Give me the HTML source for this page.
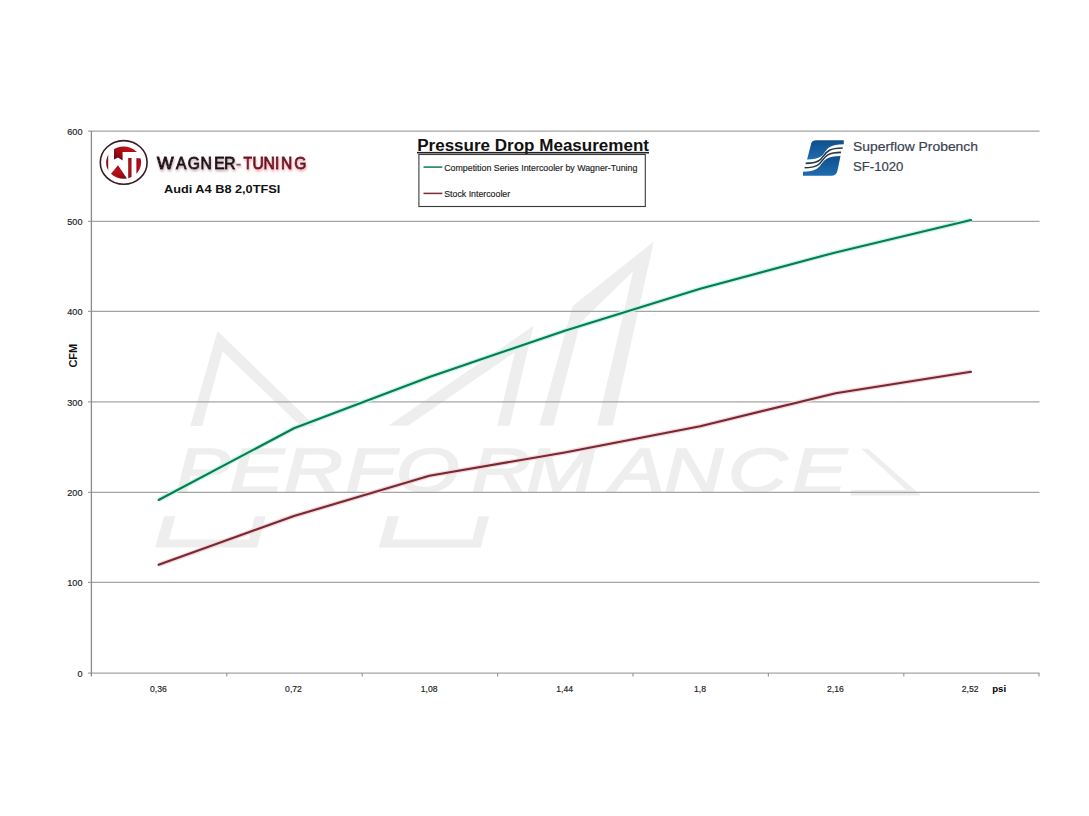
<!DOCTYPE html>
<html>
<head>
<meta charset="utf-8">
<style>
html,body{margin:0;padding:0;background:#fff;}
body{width:1089px;height:816px;overflow:hidden;}
svg{display:block;}
text{font-family:"Liberation Sans",Arial,sans-serif;}
</style>
</head>
<body>
<svg width="1089" height="816" viewBox="0 0 1089 816">
<defs>
  <clipPath id="wmclip"><rect x="0" y="0" width="1089" height="427"/></clipPath>
  <clipPath id="disc"><ellipse cx="123.6" cy="162.7" rx="17.5" ry="16.1"/></clipPath>
  <radialGradient id="redg" cx="0.45" cy="0.35" r="0.7">
    <stop offset="0" stop-color="#c0121c"/>
    <stop offset="0.65" stop-color="#9a0a14"/>
    <stop offset="1" stop-color="#5e060c"/>
  </radialGradient>
  <linearGradient id="blueg" x1="0" y1="0" x2="0" y2="1">
    <stop offset="0" stop-color="#0f4f8c"/>
    <stop offset="1" stop-color="#1f6db0"/>
  </linearGradient>
  <filter id="shadowg" x="-10%" y="-30%" width="120%" height="180%">
    <feDropShadow dx="0.6" dy="1.8" stdDeviation="1.1" flood-color="#c8a8ae" flood-opacity="1"/>
  </filter>
  <filter id="shadowp" x="-10%" y="-30%" width="120%" height="180%">
    <feDropShadow dx="0.6" dy="1.8" stdDeviation="1.2" flood-color="#f4a0aa" flood-opacity="1"/>
  </filter>
</defs>
<rect width="1089" height="816" fill="#fff"/>

<!-- watermark -->
<g fill="#eeeeee">
  <polygon points="190.3,425.9 217.5,331 315.3,425.9 300.6,425.9 222.6,351.6 202.1,425.9"/>
  <polygon points="388.2,425.7 533.6,325.7 509.7,425.7 497.3,425.7 514.9,352.2 408,425.7"/>
  <polygon points="539.3,425.5 572.7,305.9 653.8,241.6 612.6,425.5 597.2,425.5 633.2,271.2 580.5,322.6 553.4,425.5"/>
  <polygon points="164.1,516.3 175.4,516.3 168.9,539.6 249,539.6 254.8,516.3 265.6,516.3 257.2,547.4 155.1,547.4"/>
  <polygon transform="translate(223.5,0)" points="164.1,516.3 175.4,516.3 168.9,539.6 249,539.6 254.8,516.3 265.6,516.3 257.2,547.4 155.1,547.4"/>
  <polygon points="861.3,448.8 868,448.8 921,495.6 850.2,495.6 851.5,489.8 906,489.8"/>
</g>
<text transform="scale(1.3,1)" x="135.1 176.6 218.2 265.6 304.4 362.5 404.8 469.5 510.7 560 609.5" y="492.5" font-size="63" font-style="italic" fill="#eeeeee" stroke="#eeeeee" stroke-width="1.6">PERFORMANCE</text>
<!-- gridlines -->
<g stroke="#a4a4a4" stroke-width="1.25">
  <line x1="88" y1="131" x2="1039.5" y2="131"/>
  <line x1="88" y1="221.4" x2="1039.5" y2="221.4"/>
  <line x1="88" y1="311.4" x2="1039.5" y2="311.4"/>
  <line x1="88" y1="401.95" x2="1039.5" y2="401.95"/>
  <line x1="88" y1="492.25" x2="1039.5" y2="492.25"/>
  <line x1="88" y1="582.47" x2="1039.5" y2="582.47"/>
  <line x1="88" y1="673.0" x2="1039.5" y2="673.0"/>
</g>
<!-- axis -->
<line x1="91.4" y1="131" x2="91.4" y2="676.5" stroke="#8a8a8a" stroke-width="1.3"/>
<g stroke="#9a9a9a" stroke-width="1.2">
  <line x1="226.8" y1="673" x2="226.8" y2="676.5"/>
  <line x1="362.2" y1="673" x2="362.2" y2="676.5"/>
  <line x1="497.6" y1="673" x2="497.6" y2="676.5"/>
  <line x1="633" y1="673" x2="633" y2="676.5"/>
  <line x1="768.4" y1="673" x2="768.4" y2="676.5"/>
  <line x1="903.8" y1="673" x2="903.8" y2="676.5"/>
  <line x1="1039" y1="673" x2="1039" y2="676.5"/>
</g>

<!-- y labels -->
<g font-size="9.6" fill="#222" stroke="#222" stroke-width="0.18" text-anchor="end">
  <text transform="translate(82.5,134.60) scale(0.95,1)">600</text>
  <text transform="translate(82.5,225.00) scale(0.95,1)">500</text>
  <text transform="translate(82.5,315.00) scale(0.95,1)">400</text>
  <text transform="translate(82.5,405.55) scale(0.95,1)">300</text>
  <text transform="translate(82.5,495.85) scale(0.95,1)">200</text>
  <text transform="translate(82.5,586.07) scale(0.95,1)">100</text>
  <text transform="translate(82.5,676.60) scale(0.95,1)">0</text>
</g>
<!-- x labels -->
<g font-size="9.6" fill="#222" stroke="#222" stroke-width="0.18" text-anchor="middle">
  <text transform="translate(158.4,692) scale(0.9,1)">0,36</text>
  <text transform="translate(293.5,692) scale(0.9,1)">0,72</text>
  <text transform="translate(429.1,692) scale(0.9,1)">1,08</text>
  <text transform="translate(564.6,692) scale(0.9,1)">1,44</text>
  <text transform="translate(700,692) scale(0.9,1)">1,8</text>
  <text transform="translate(835.4,692) scale(0.9,1)">2,16</text>
  <text transform="translate(970.1,692) scale(0.9,1)">2,52</text>
</g>
<text x="992.2" y="692.4" font-size="9.6" font-weight="bold" fill="#000">psi</text>
<text x="0" y="0" font-size="11.5" font-weight="bold" fill="#111" transform="translate(77.4,367.6) rotate(-90)" textLength="23.8" lengthAdjust="spacingAndGlyphs">CFM</text>

<!-- data lines -->
<polyline fill="none" stroke="#f6d6dc" stroke-width="4.6" stroke-linejoin="round" points="158.6,564.8 294,516 429.4,475.8 564.8,452.5 700.2,426.2 835.6,393.2 971,371.8"/>
<polyline fill="none" stroke="#c4f6e4" stroke-width="4.6" stroke-linejoin="round" points="158.6,500 294,428.3 429.4,377 564.8,330.7 700.2,288.7 835.6,252.4 971,220.1"/>
<polyline fill="none" stroke="#742a30" stroke-width="2.1" stroke-linejoin="round" stroke-linecap="round" points="158.6,564.8 294,516 429.4,475.8 564.8,452.5 700.2,426.2 835.6,393.2 971,371.8"/>
<polyline fill="none" stroke="#0a7a50" stroke-width="2.1" stroke-linejoin="round" stroke-linecap="round" points="158.6,500 294,428.3 429.4,377 564.8,330.7 700.2,288.7 835.6,252.4 971,220.1"/>

<!-- title -->
<text x="417.2" y="150.5" font-size="15.6" font-weight="bold" fill="#111" textLength="231.8" lengthAdjust="spacingAndGlyphs">Pressure Drop Measurement</text>
<rect x="417" y="151.9" width="232" height="1.6" fill="#222"/>
<!-- legend -->
<rect x="418.9" y="154.5" width="226.4" height="52" fill="none" stroke="#3a3a3a" stroke-width="1.1"/>
<line x1="423.5" y1="167.1" x2="442.3" y2="167.1" stroke="#0b7d50" stroke-width="1.5"/>
<line x1="423.5" y1="193.4" x2="442.3" y2="193.4" stroke="#7c2c30" stroke-width="1.5"/>
<text x="444.2" y="170.6" font-size="8.8" fill="#222" stroke="#222" stroke-width="0.15" textLength="193.2" lengthAdjust="spacingAndGlyphs">Competition Series Intercooler by Wagner-Tuning</text>
<text x="444.2" y="196.6" font-size="8.8" fill="#222" stroke="#222" stroke-width="0.15" textLength="66" lengthAdjust="spacingAndGlyphs">Stock Intercooler</text>

<!-- Wagner logo -->
<ellipse cx="123.7" cy="162.4" rx="23.4" ry="21.8" fill="#fff" stroke="#3a1a22" stroke-width="1.6"/>
<ellipse cx="123.6" cy="162.7" rx="17.5" ry="16.1" fill="#fff"/>
<g clip-path="url(#disc)" fill="url(#redg)">
  <rect x="100" y="140" width="50" height="50" fill="none"/>
  <polygon points="114,140 145,140 145,151.9 122.6,151.9 122.6,160.5 118,157.5 114,159.6"/>
  <polygon points="100,150 108.2,152 108.2,172 100,174"/>
  <polygon points="104,181 111,173.8 118,165.2 128.6,181"/>
  <polygon points="128.2,158 131.5,158 131.5,185 128.2,185"/>
  <polygon points="136.4,158.2 145,158.2 145,185 136.4,185"/>
</g>
<text x="157 175.9 187.7 200.5 214.2 224.3" y="169" font-size="15.6" fill="#1a1014" stroke="#1a1014" stroke-width="0.9" filter="url(#shadowg)"><tspan textLength="16.6" lengthAdjust="spacingAndGlyphs">W</tspan>AGNER</text>
<text x="235.9 243.4 252.6 263.5 275.1 280.9 294.3" y="169" font-size="15.6" fill="#6e1222" stroke="#6e1222" stroke-width="0.9" filter="url(#shadowp)"><tspan fill="#7c5c64" stroke="#7c5c64" stroke-width="0.5">-</tspan><tspan textLength="8.5" lengthAdjust="spacingAndGlyphs">T</tspan>UNING</text>
<text x="164" y="192.6" font-size="10.7" font-weight="bold" fill="#111" textLength="116.3" lengthAdjust="spacingAndGlyphs">Audi A4 B8 2,0TFSI</text>

<!-- Superflow logo -->
<g transform="translate(798,135)">
  <path d="M9.1 24.5 L13.2 8.3 Q14.2 5.2 18.2 5.2 L45.8 5.2 L45.8 9.3 C19 9.3 35 24.5 9.1 24.5 Z" fill="url(#blueg)"/>
  <path d="M7.7 28.4 C33 28.4 18 13 44.7 13" fill="none" stroke="#243848" stroke-width="1.6"/>
  <path d="M6.6 32.8 C32 32.8 17 17.4 43 17.4" fill="none" stroke="#243848" stroke-width="1.6"/>
  <path d="M5 36.7 C31 36.7 16 21 42.5 21 L39.5 35.5 Q38.5 40.8 33.1 40.8 L5 40.8 Z" fill="url(#blueg)"/>
</g>
<text x="853" y="151.4" font-size="13.2" fill="#3a4250" stroke="#3a4250" stroke-width="0.2" textLength="125" lengthAdjust="spacingAndGlyphs">Superflow Probench</text>
<text x="853" y="170.7" font-size="13.2" fill="#3a4250" stroke="#3a4250" stroke-width="0.2" textLength="50.4" lengthAdjust="spacingAndGlyphs">SF-1020</text>
</svg>
</body>
</html>
